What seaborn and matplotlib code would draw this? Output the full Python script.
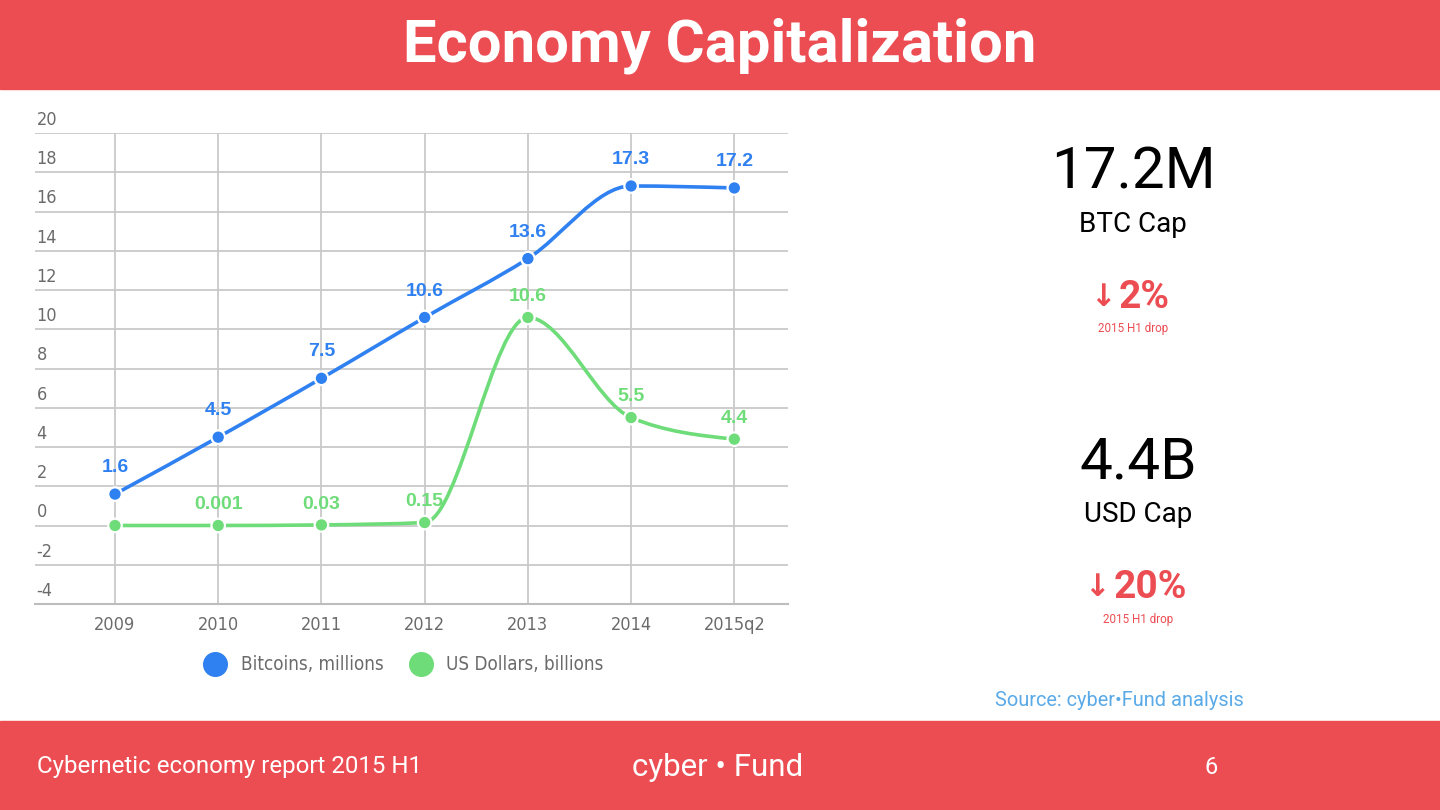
import numpy as np
import pandas as pd
import matplotlib.pyplot as plt
import seaborn as sns
from matplotlib.path import Path
from matplotlib.patches import PathPatch, Rectangle
from matplotlib.lines import Line2D
from matplotlib.transforms import ScaledTranslation
from matplotlib.font_manager import FontProperties

# Data
periods = ['2009', '2010', '2011', '2012', '2013', '2014', '2015q2']
btc_millions = [1.6, 4.5, 7.5, 10.6, 13.6, 17.3, 17.2]
usd_billions = [0.0, 0.001, 0.03, 0.15, 10.6, 5.5, 4.4]
btc_labels = ['1.6', '4.5', '7.5', '10.6', '13.6', '17.3', '17.2']
usd_labels = ['', '0.001', '0.03', '0.15', '10.6', '5.5', '4.4']
series_names = ['Bitcoins, millions', 'US Dollars, billions']

RED = '#EC4D53'
BLUE = '#2F80F0'
GREEN = '#6EDC78'
GRAY = '#6b6b6b'

df = pd.DataFrame({
    'idx': list(range(len(periods))) * 2,
    'value': btc_millions + usd_billions,
    'series': [series_names[0]] * len(periods) + [series_names[1]] * len(periods),
})

sns.set_style('white')
plt.rcParams['font.family'] = ['Roboto', 'DejaVu Sans']

# condensed face for the chart texts
narrow = FontProperties(family='DejaVu Sans', stretch='condensed')

W, H = 1440, 810
fig = plt.figure(figsize=(14.4, 8.1), dpi=100)


def fx(px):
    return px / W


def fy(py):
    return 1 - py / H


# header / footer bands
fig.add_artist(Rectangle((0, fy(89)), 1, 89 / H, transform=fig.transFigure, color=RED, zorder=0))
fig.add_artist(Rectangle((0, 0), 1, fy(721), transform=fig.transFigure, color=RED, zorder=0))
fig.text(0.5, fy(46), 'Economy Capitalization', ha='center', va='center', color='white',
         fontsize=43, fontweight='bold')

ax = fig.add_axes([fx(35), fy(604), fx(788) - fx(35), fy(133) - fy(604)])


def monotone_path(xs, ys):
    # smooth monotone-x curve, built as bezier segments through the points
    xs = np.asarray(xs, float)
    ys = np.asarray(ys, float)
    n = len(xs)
    s = np.diff(ys) / np.diff(xs)
    t = np.zeros(n)
    for i in range(1, n - 1):
        p = (s[i - 1] + s[i]) / 2
        t[i] = (np.sign(s[i - 1]) + np.sign(s[i])) * min(abs(s[i - 1]), abs(s[i]), 0.5 * abs(p))
    t[0] = (3 * s[0] - t[1]) / 2
    t[-1] = (3 * s[-1] - t[-2]) / 2
    verts = [(xs[0], ys[0])]
    codes = [Path.MOVETO]
    for i in range(n - 1):
        h = xs[i + 1] - xs[i]
        verts += [(xs[i] + h / 3, ys[i] + t[i] * h / 3),
                  (xs[i + 1] - h / 3, ys[i + 1] - t[i + 1] * h / 3),
                  (xs[i + 1], ys[i + 1])]
        codes += [Path.CURVE4] * 3
    return Path(verts, codes)


idx = list(range(len(periods)))
for vals, col in [(usd_billions, GREEN), (btc_millions, BLUE)]:
    ax.add_patch(PathPatch(monotone_path(idx, vals), fill=False, edgecolor=col, lw=2.6,
                           zorder=3, capstyle='round'))

sns.scatterplot(data=df, x='idx', y='value', hue='series', palette=[BLUE, GREEN],
                s=95, edgecolor='white', linewidth=1.6, legend=False, zorder=4, ax=ax)

for i, lab in enumerate(btc_labels):
    ax.annotate(lab, (i, btc_millions[i]), xytext=(0, 19), textcoords='offset points',
                ha='center', va='center', color=BLUE, fontsize=14, fontweight='bold',
                family=['Liberation Sans', 'DejaVu Sans'], zorder=5)
for i, lab in enumerate(usd_labels):
    if lab:
        ax.annotate(lab, (i, usd_billions[i]), xytext=(0, 15), textcoords='offset points',
                    ha='center', va='center', color=GREEN, fontsize=14, fontweight='bold',
                    family=['Liberation Sans', 'DejaVu Sans'], zorder=5)

ax.set_xlim(-0.775, 6.52)
ax.set_ylim(-4, 20)
ax.set_xticks(idx)
ax.set_xticklabels(periods, fontproperties=narrow)
ax.set_yticks(range(-4, 21, 2))
ax.set_yticklabels([str(v) for v in range(-4, 21, 2)], fontproperties=narrow)
ax.set_xlabel('')
ax.set_ylabel('')
ax.grid(True, color='#c9c9c9', lw=1.3)
ax.set_axisbelow(True)
for side in ['top', 'left', 'right']:
    ax.spines[side].set_visible(False)
ax.spines['bottom'].set_color('#bdbdbd')
ax.spines['bottom'].set_linewidth(1.5)
ax.tick_params(axis='x', length=0, pad=9, labelcolor=GRAY)
ax.tick_params(axis='y', length=0, pad=-1, labelcolor=GRAY)
for lbl in ax.get_xticklabels() + ax.get_yticklabels():
    lbl.set_fontsize(13)
for lbl in ax.get_yticklabels():
    lbl.set_ha('left')
    lbl.set_va('bottom')
    lbl.set_transform(lbl.get_transform() + ScaledTranslation(0, 3 / 72, fig.dpi_scale_trans))

handles = [Line2D([], [], marker='o', ls='none', ms=17, color=c, mec=c) for c in [BLUE, GREEN]]
leg_font = FontProperties(family='DejaVu Sans', stretch='condensed', size=13.5)
leg = ax.legend(handles, series_names, loc='center', bbox_to_anchor=((400 - 35) / 753, -61 / 471),
                ncol=2, frameon=False, handletextpad=0.35, columnspacing=1.0, prop=leg_font)
for txt in leg.get_texts():
    txt.set_color(GRAY)

# KPI panel on the right
fig.text(fx(1133), fy(173), '17.2M', ha='center', va='center', fontsize=42, color='black')
fig.text(fx(1133), fy(224), 'BTC Cap', ha='center', va='center', fontsize=20, color='black')
fig.text(fx(1103), fy(298), '↓', ha='center', va='center', fontsize=22, color=RED,
         fontweight='bold', family=['DejaVu Sans'])
fig.text(fx(1144), fy(298), '2%', ha='center', va='center', fontsize=28, color=RED, fontweight='bold')
fig.text(fx(1133), fy(328), '2015 H1 drop', ha='center', va='center', fontsize=8.4, color=RED)

fig.text(fx(1138), fy(463), '4.4B', ha='center', va='center', fontsize=42, color='black')
fig.text(fx(1138), fy(514), 'USD Cap', ha='center', va='center', fontsize=20, color='black')
fig.text(fx(1097), fy(588), '↓', ha='center', va='center', fontsize=22, color=RED,
         fontweight='bold', family=['DejaVu Sans'])
fig.text(fx(1150), fy(588), '20%', ha='center', va='center', fontsize=28, color=RED, fontweight='bold')
fig.text(fx(1138), fy(619), '2015 H1 drop', ha='center', va='center', fontsize=8.4, color=RED)

fig.text(fx(1119), fy(701), 'Source: cyber•Fund analysis', ha='center', va='center',
         fontsize=14.4, color='#5AAAE8')

# footer
fig.text(fx(37), fy(767), 'Cybernetic economy report 2015 H1', ha='left', va='center',
         fontsize=17.3, color='white')
fig.text(fx(718), fy(767), 'cyber • Fund', ha='center', va='center', fontsize=22.5, color='white')
fig.text(fx(1211), fy(767), '6', ha='center', va='center', fontsize=17, color='white')

fig.savefig('out.png', dpi=100, facecolor='white')
